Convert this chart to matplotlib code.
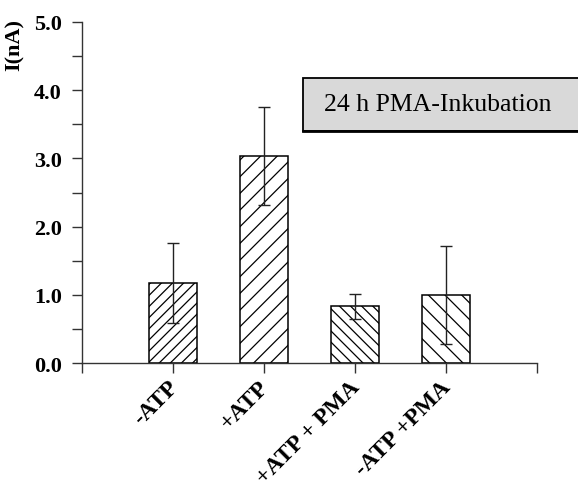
import matplotlib
matplotlib.use("Agg")
import matplotlib.pyplot as plt
from matplotlib.patches import Rectangle
from matplotlib.ticker import MultipleLocator, FormatStrFormatter
from matplotlib.transforms import ScaledTranslation

# Data
categories = ["-ATP", "+ATP", "+ATP + PMA", "-ATP +PMA"]
currents = [1.17, 3.04, 0.83, 1.00]
errors = [0.59, 0.72, 0.18, 0.72]
hatches = ["///", "//", "\\\\\\", "\\\\"]
box_text = "24 h PMA-Inkubation"
y_label = "I(nA)"

plt.rcParams["font.family"] = ["Liberation Serif", "DejaVu Serif"]
plt.rcParams["hatch.linewidth"] = 0.9
plt.rcParams["hatch.color"] = "black"

fig = plt.figure(figsize=(5.78, 4.81), dpi=100)
ax = fig.add_axes([0.1419, 0.2432, 0.7872, 0.7090])

x = list(range(len(categories)))
ax.bar(x, currents, width=0.52, color="white", edgecolor="black",
       linewidth=1.1, hatch=hatches, zorder=2)
ax.errorbar(x, currents, yerr=errors, fmt="none", ecolor="#222222",
            elinewidth=1.0, capsize=4, capthick=1.0, zorder=3)

ax.set_xlim(-1, 4)
ax.set_ylim(0, 5)

for side in ("top", "right"):
    ax.spines[side].set_visible(False)
for side in ("left", "bottom"):
    ax.spines[side].set_color("#333333")
    ax.spines[side].set_linewidth(1.0)

ax.yaxis.set_major_locator(MultipleLocator(1.0))
ax.yaxis.set_minor_locator(MultipleLocator(0.5))
ax.yaxis.set_major_formatter(FormatStrFormatter("%.1f"))
ax.tick_params(axis="y", which="both", direction="out", length=7,
               width=1.0, color="#333333", labelsize=16, pad=7.5)
for lbl in ax.get_yticklabels():
    lbl.set_fontweight("bold")

ax.set_xticks([-1, 0, 1, 2, 3, 4])
ax.set_xticklabels([""] + categories + [""], rotation=45, ha="right",
                   va="top", rotation_mode="anchor", fontsize=17,
                   fontweight="bold")
ax.tick_params(axis="x", direction="out", length=7, width=1.0,
               color="#333333", pad=4)
shift = ScaledTranslation(-6 / 100, 2 / 100, fig.dpi_scale_trans)
for lbl in ax.get_xticklabels():
    lbl.set_transform(lbl.get_transform() + shift)

ax.set_ylabel(y_label, fontsize=16, fontweight="bold")
ax.yaxis.set_label_coords(-0.125, 0.935)

# Annotation box
fig.patches.append(Rectangle((0.524, 0.726), 0.52, 0.110,
                             transform=fig.transFigure, facecolor="#d9d9d9",
                             edgecolor="black", linewidth=1.3, zorder=5))
fig.lines.append(plt.Line2D([0.525, 1.0], [0.7255, 0.7255],
                            transform=fig.transFigure, color="black",
                            linewidth=2.0, zorder=6))
fig.text(0.561, 0.781, box_text, fontsize=18.5, ha="left", va="center",
         zorder=7)

fig.savefig("out.png", dpi=100)
